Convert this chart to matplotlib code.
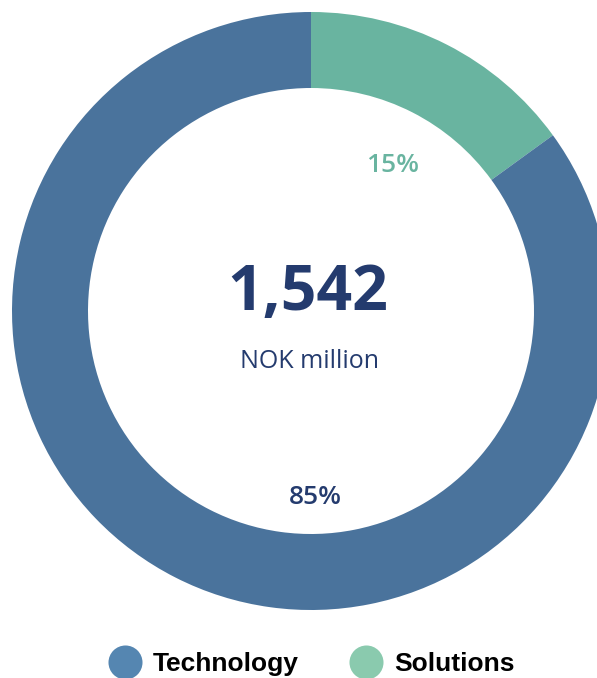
import matplotlib
matplotlib.use("Agg")
import matplotlib.pyplot as plt
from matplotlib.lines import Line2D
import numpy as np

# Data
segments = ["Solutions", "Technology"]
values = [15, 85]
total_value = "1,542"
unit_label = "NOK million"
legend_order = ["Technology", "Solutions"]

ring_colors = {"Technology": "#4a739c", "Solutions": "#69b4a0"}
legend_colors = {"Technology": "#5586b1", "Solutions": "#8acaae"}
label_colors = {"Technology": "#243b6e", "Solutions": "#69b4a0"}

W, H = 597, 678
fig = plt.figure(figsize=(W / 100, H / 100), dpi=100)
ax = fig.add_axes([0, 0, 1, 1])
ax.set_xlim(0, W)
ax.set_ylim(0, H)
ax.set_aspect("equal")
ax.axis("off")

cx, cy = 311, H - 311
R = 299
width = 76

wedges, _ = ax.pie(values, radius=R, center=(cx, cy), startangle=90,
                   counterclock=False,
                   colors=[ring_colors[s] for s in segments],
                   wedgeprops=dict(width=width, linewidth=0))
ax.set_xlim(0, W)
ax.set_ylim(0, H)

# percentage labels
tot = sum(values)
pcts = {s: f"{round(v / tot * 100)}%" for s, v in zip(segments, values)}
ax.text(cx + 82, cy + 146, pcts["Solutions"], ha="center", va="center",
        fontsize=19, fontweight="semibold", family="Open Sans",
        color=label_colors["Solutions"])
ax.text(cx + 4, cy - 186, pcts["Technology"], ha="center", va="center",
        fontsize=19, fontweight="semibold", family="Open Sans",
        color=label_colors["Technology"])

# centre text
ax.text(cx - 3, cy + 17, total_value, ha="center", va="center",
        fontsize=45, fontweight="bold", family="Open Sans", color="#243b6e")
ax.text(cx - 1, cy - 51, unit_label, ha="center", va="center",
        fontsize=18, family="Open Sans", color="#243b6e")

handles = [Line2D([], [], marker="o", linestyle="none", markersize=24.5,
                  markerfacecolor=legend_colors[s], markeredgewidth=0)
           for s in legend_order]
leg = fig.legend(handles, legend_order, loc="center",
                 bbox_to_anchor=(311 / W, 1 - 664 / H),
                 ncol=2, frameon=False, borderpad=0, handlelength=1.3,
                 handletextpad=0.42, columnspacing=1.9,
                 prop=dict(family="Liberation Sans", weight="bold", size=19))

fig.savefig("out.png", dpi=100, facecolor="white")
